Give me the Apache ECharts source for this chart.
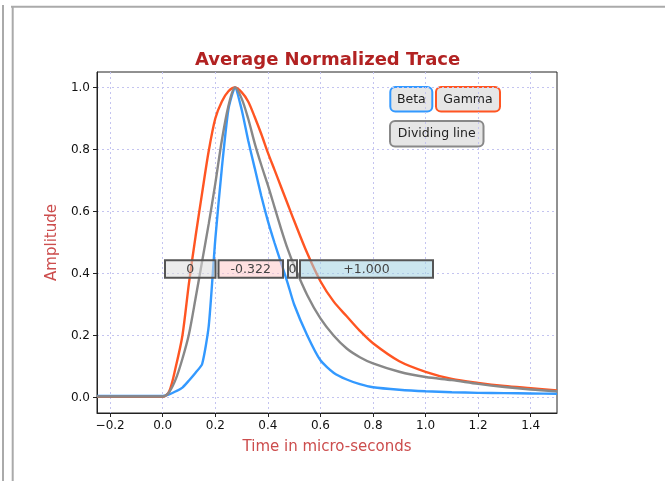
<!DOCTYPE html>
<html>
<head>
<meta charset="utf-8">
<script src="https://cdn.jsdelivr.net/npm/echarts@6/dist/echarts.min.js"></script>
<style>
  html, body { margin: 0; padding: 0; background: #fff; }
  #main { width: 665px; height: 481px; }
</style>
</head>
<body>
<div id="main"></div>
<script>
// time axis (micro-seconds) shared by all traces
var times = [-0.25, 0, 0.025, 0.05, 0.075, 0.1, 0.125, 0.15, 0.175, 0.2, 0.225, 0.25, 0.275,
  0.3, 0.325, 0.35, 0.375, 0.4, 0.425, 0.45, 0.475, 0.5, 0.55, 0.6, 0.65, 0.7, 0.75, 0.8,
  0.9, 1.0, 1.1, 1.2, 1.3, 1.4, 1.5];
var beta = [0.005, 0.005, 0.01, 0.02, 0.032, 0.055, 0.08, 0.108, 0.23, 0.51, 0.74, 0.93, 1.0,
  0.93, 0.83, 0.74, 0.65, 0.57, 0.5, 0.435, 0.37, 0.3, 0.2, 0.12, 0.08, 0.058, 0.043, 0.033,
  0.025, 0.02, 0.017, 0.015, 0.014, 0.013, 0.012];
var gamma = [0.002, 0.002, 0.02, 0.1, 0.2, 0.37, 0.52, 0.66, 0.795, 0.9, 0.955, 0.988, 1.0,
  0.985, 0.955, 0.905, 0.85, 0.79, 0.735, 0.68, 0.625, 0.57, 0.465, 0.375, 0.31, 0.262, 0.215, 0.175,
  0.117, 0.083, 0.06, 0.047, 0.037, 0.03, 0.023];
var dividing = [0.003, 0.003, 0.018, 0.06, 0.125, 0.205, 0.32, 0.44, 0.56, 0.69, 0.83, 0.94, 1.0,
  0.965, 0.9, 0.82, 0.75, 0.685, 0.615, 0.545, 0.48, 0.425, 0.33, 0.255, 0.2, 0.158, 0.13, 0.11,
  0.083, 0.066, 0.056, 0.044, 0.034, 0.026, 0.02];

var xTicks = [-0.2, 0, 0.2, 0.4, 0.6, 0.8, 1.0, 1.2, 1.4];
var yTicks = [0, 0.2, 0.4, 0.6, 0.8, 1.0];
var sliderLabels = ['0', '-0.322', '0', '+1.000'];

var FONT = 'DejaVu Sans';
var colBeta = '#3399ff', colGamma = '#ff5522', colDiv = '#888888';

function pairs(ys) {
  return times.map(function (t, i) { return [t, ys[i]]; });
}
function tickFmt(v) {
  var s = Math.abs(v).toFixed(1);
  return v < -1e-9 ? '\u2212' + s : s;
}

// toggle buttons (top right) and the value boxes in the middle
function button(x, y, w, h, label, stroke) {
  return {
    type: 'group', z: 100,
    children: [
      { type: 'rect', shape: { x: x, y: y, width: w, height: h, r: 5 },
        style: { fill: '#e6e6e6', stroke: stroke, lineWidth: 2 } },
      { type: 'text', x: x + w / 2, y: y + h / 2,
        style: { text: label, fill: '#222', font: '12.5px ' + FONT, align: 'center', verticalAlign: 'middle' } }
    ]
  };
}
var boxes = [
  { x: 165, w: 50.5, fill: 'rgba(220,220,220,0.55)' },
  { x: 218.5, w: 64.5, fill: 'rgba(255,200,200,0.55)' },
  { x: 288, w: 9, fill: 'rgba(220,220,220,0.55)' },
  { x: 300, w: 133, fill: 'rgba(160,210,225,0.55)' }
];
var sliderGraphics = [];
boxes.forEach(function (b, i) {
  sliderGraphics.push({
    type: 'rect', z: 100, shape: { x: b.x, y: 260.3, width: b.w, height: 17.5 },
    style: { fill: b.fill, stroke: '#555', lineWidth: 2 }
  });
  sliderGraphics.push({
    type: 'text', z: 101, x: b.x + b.w / 2, y: 269.5,
    style: { text: sliderLabels[i], fill: '#444', font: '12.5px ' + FONT, align: 'center', verticalAlign: 'middle' }
  });
});

var chart = echarts.init(document.getElementById('main'), null, { renderer: 'canvas' });
chart.setOption({
  animation: false,
  backgroundColor: '#fff',
  textStyle: { fontFamily: FONT },
  title: {
    text: 'Average Normalized Trace',
    left: 190, top: 46,
    textStyle: { color: '#b22222', fontSize: 18, fontWeight: 'bold', fontFamily: FONT }
  },
  grid: {
    left: 97, right: 108, top: 72, bottom: 68,
    show: true, borderColor: '#222', borderWidth: 1, backgroundColor: 'transparent'
  },
  xAxis: {
    type: 'value', min: -0.25, max: 1.5,
    name: 'Time in micro-seconds', nameLocation: 'middle', nameGap: 27,
    nameTextStyle: { color: '#cc4d4d', fontSize: 15, fontFamily: FONT },
    axisLine: { show: true, onZero: false, lineStyle: { color: '#222', width: 1 } },
    axisTick: { show: true, length: 4, customValues: xTicks, lineStyle: { color: '#222' } },
    axisLabel: { customValues: xTicks, formatter: tickFmt, color: '#111', fontSize: 12, margin: 7 },
    splitLine: { show: true, lineStyle: { color: '#c4c4f0', type: [2, 3], width: 1 } }
  },
  yAxis: {
    type: 'value', min: -0.05, max: 1.05,
    name: 'Amplitude', nameLocation: 'middle', nameGap: 37,
    nameTextStyle: { color: '#cc4d4d', fontSize: 15, fontFamily: FONT },
    axisLine: { show: true, onZero: false, lineStyle: { color: '#222', width: 1 } },
    axisTick: { show: true, length: 4, customValues: yTicks, lineStyle: { color: '#222' } },
    axisLabel: { customValues: yTicks, formatter: tickFmt, color: '#111', fontSize: 12, margin: 7 },
    splitLine: { show: true, lineStyle: { color: '#c4c4f0', type: [2, 3], width: 1 } }
  },
  series: [
    { name: 'Beta', type: 'line', data: pairs(beta), showSymbol: false, smooth: 0.2,
      lineStyle: { color: colBeta, width: 2.4 }, itemStyle: { color: colBeta } },
    { name: 'Gamma', type: 'line', data: pairs(gamma), showSymbol: false, smooth: 0.3,
      lineStyle: { color: colGamma, width: 2.4 }, itemStyle: { color: colGamma } },
    { name: 'Dividing line', type: 'line', data: pairs(dividing), showSymbol: false, smooth: 0.3,
      lineStyle: { color: colDiv, width: 2.4 }, itemStyle: { color: colDiv } }
  ],
  graphic: [
    // page frame lines
    { type: 'line', shape: { x1: 3, y1: 5, x2: 3, y2: 481 }, style: { stroke: '#aaa', lineWidth: 2 } },
    { type: 'line', shape: { x1: 12.7, y1: 6.7, x2: 12.7, y2: 481 }, style: { stroke: '#aaa', lineWidth: 2 } },
    { type: 'line', shape: { x1: 11, y1: 6.7, x2: 665, y2: 6.7 }, style: { stroke: '#aaa', lineWidth: 2 } },
    button(390.3, 87, 42, 24.5, 'Beta', colBeta),
    button(436, 87, 64, 24.5, 'Gamma', colGamma),
    button(390, 121, 93.5, 25.5, 'Dividing line', colDiv)
  ].concat(sliderGraphics)
});
</script>
</body>
</html>
